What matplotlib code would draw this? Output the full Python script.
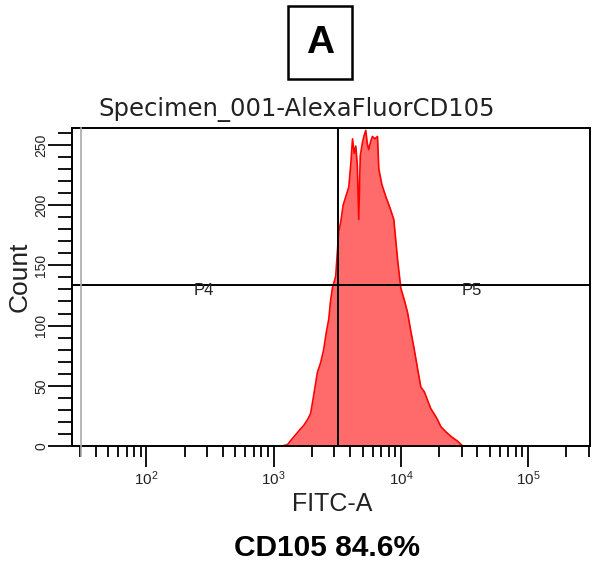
import numpy as np
import matplotlib.pyplot as plt
from matplotlib.patches import Rectangle
from matplotlib.lines import Line2D
from matplotlib.ticker import LogLocator, MultipleLocator, FixedLocator

plt.rcParams['font.family'] = ['Liberation Sans', 'DejaVu Sans']

# histogram (FITC-A intensity vs count)
fitc = [1150, 1282, 1400, 1537, 1620, 1723, 1850, 1954, 2080, 2207, 2340, 2475, 2600, 2711,
        2800, 2898, 3077, 3250, 3372, 3520, 3692, 3899, 4050, 4170, 4300, 4425, 4550,
        4670, 4800, 4994, 5150, 5300, 5450, 5594, 5800, 5984, 6250, 6555, 6713, 7100,
        7624, 8200, 8810, 9424, 10000, 10600, 11290, 12000, 12660, 13500, 14360, 15300,
        16220, 17200, 18190, 19400, 20650, 22500, 24770, 26300, 27950, 30620]
count = [0, 1, 6, 11, 14, 17, 22, 27, 44, 61, 69, 80, 95, 105,
         120, 131, 141, 178, 186, 200, 207, 215, 235, 255, 243, 249, 233,
         188, 241, 252, 258, 262, 251, 246, 253, 257, 255, 257, 230, 217,
         207, 198, 188, 155, 131, 122, 111, 95, 82, 65, 49, 45,
         38, 31, 27, 22, 16, 12, 8, 6, 4, 0]

gate_x = 3200
gate_y = 134
x_min, x_max = 26, 307000
y_max = 264

W, H = 593, 569
L, R, T, B = 72, 590, 128, 446

fig = plt.figure(figsize=(W / 100, H / 100), dpi=100)
ax = fig.add_axes([L / W, 1 - B / H, (R - L) / W, (B - T) / H])

ax.fill_between(fitc, count, color='#ff6b6b', lw=0)
ax.plot(fitc, count, color='#ff0000', lw=1.2)

ax.axvline(gate_x, color='black', lw=1.4)
ax.axhline(gate_y, color='black', lw=1.4)
ax.text(10 ** 2.45, gate_y - 5, 'P4', ha='center', va='center', fontsize=12, color='#222222')
ax.text(10 ** 4.56, gate_y - 5, 'P5', ha='center', va='center', fontsize=12, color='#222222')

ax.set_xscale('log')
ax.set_xlim(x_min, x_max)
ax.set_ylim(0, y_max)

ax.xaxis.set_major_locator(FixedLocator([1e2, 1e3, 1e4, 1e5]))
ax.xaxis.set_minor_locator(LogLocator(base=10, subs=np.arange(2, 10), numticks=20))
ax.yaxis.set_major_locator(MultipleLocator(50))
ax.yaxis.set_minor_locator(MultipleLocator(10))
ax.tick_params(which='major', direction='out', width=1.3, labelcolor='#222222')
ax.tick_params(which='minor', direction='out', width=1.3)
ax.tick_params(axis='y', which='major', length=17, labelsize=10, pad=0)
ax.tick_params(axis='y', which='minor', length=10)
ax.tick_params(axis='x', which='major', length=15, labelsize=11, pad=2)
ax.tick_params(axis='x', which='minor', length=8)
for lab in ax.get_yticklabels():
    lab.set_rotation(90)
    lab.set_va('center')
for s in ax.spines.values():
    s.set_linewidth(1.4)

# faint inner frame line next to the y axis
fig.add_artist(Line2D([81 / W, 81 / W], [1 - 456 / H, 1 - T / H], color='#aaaaaa', lw=1.2))

fig.text(332 / W, 1 - 504 / H, 'FITC-A', ha='center', va='center', fontsize=18, color='#222222')
fig.text(20 / W, 1 - 277 / H, 'Count', ha='center', va='center', fontsize=19,
         rotation=90, color='#222222')
fig.text(297 / W, 1 - 109 / H, 'Specimen_001-AlexaFluorCD105', ha='center', va='center',
         fontsize=17.5, color='#222222', family='DejaVu Sans')

fig.text(320 / W, 1 - 43 / H, 'A', ha='center', va='center', fontsize=28, fontweight='bold')
fig.add_artist(Rectangle((288 / W, 1 - 79 / H), 64 / W, 73 / H,
                         transform=fig.transFigure, fill=False, ec='black', lw=1.8))
fig.text(327 / W, 1 - 548 / H, 'CD105 84.6%', ha='center', va='center', fontsize=21.5,
         fontweight='bold')

fig.savefig('out.png', dpi=100)
